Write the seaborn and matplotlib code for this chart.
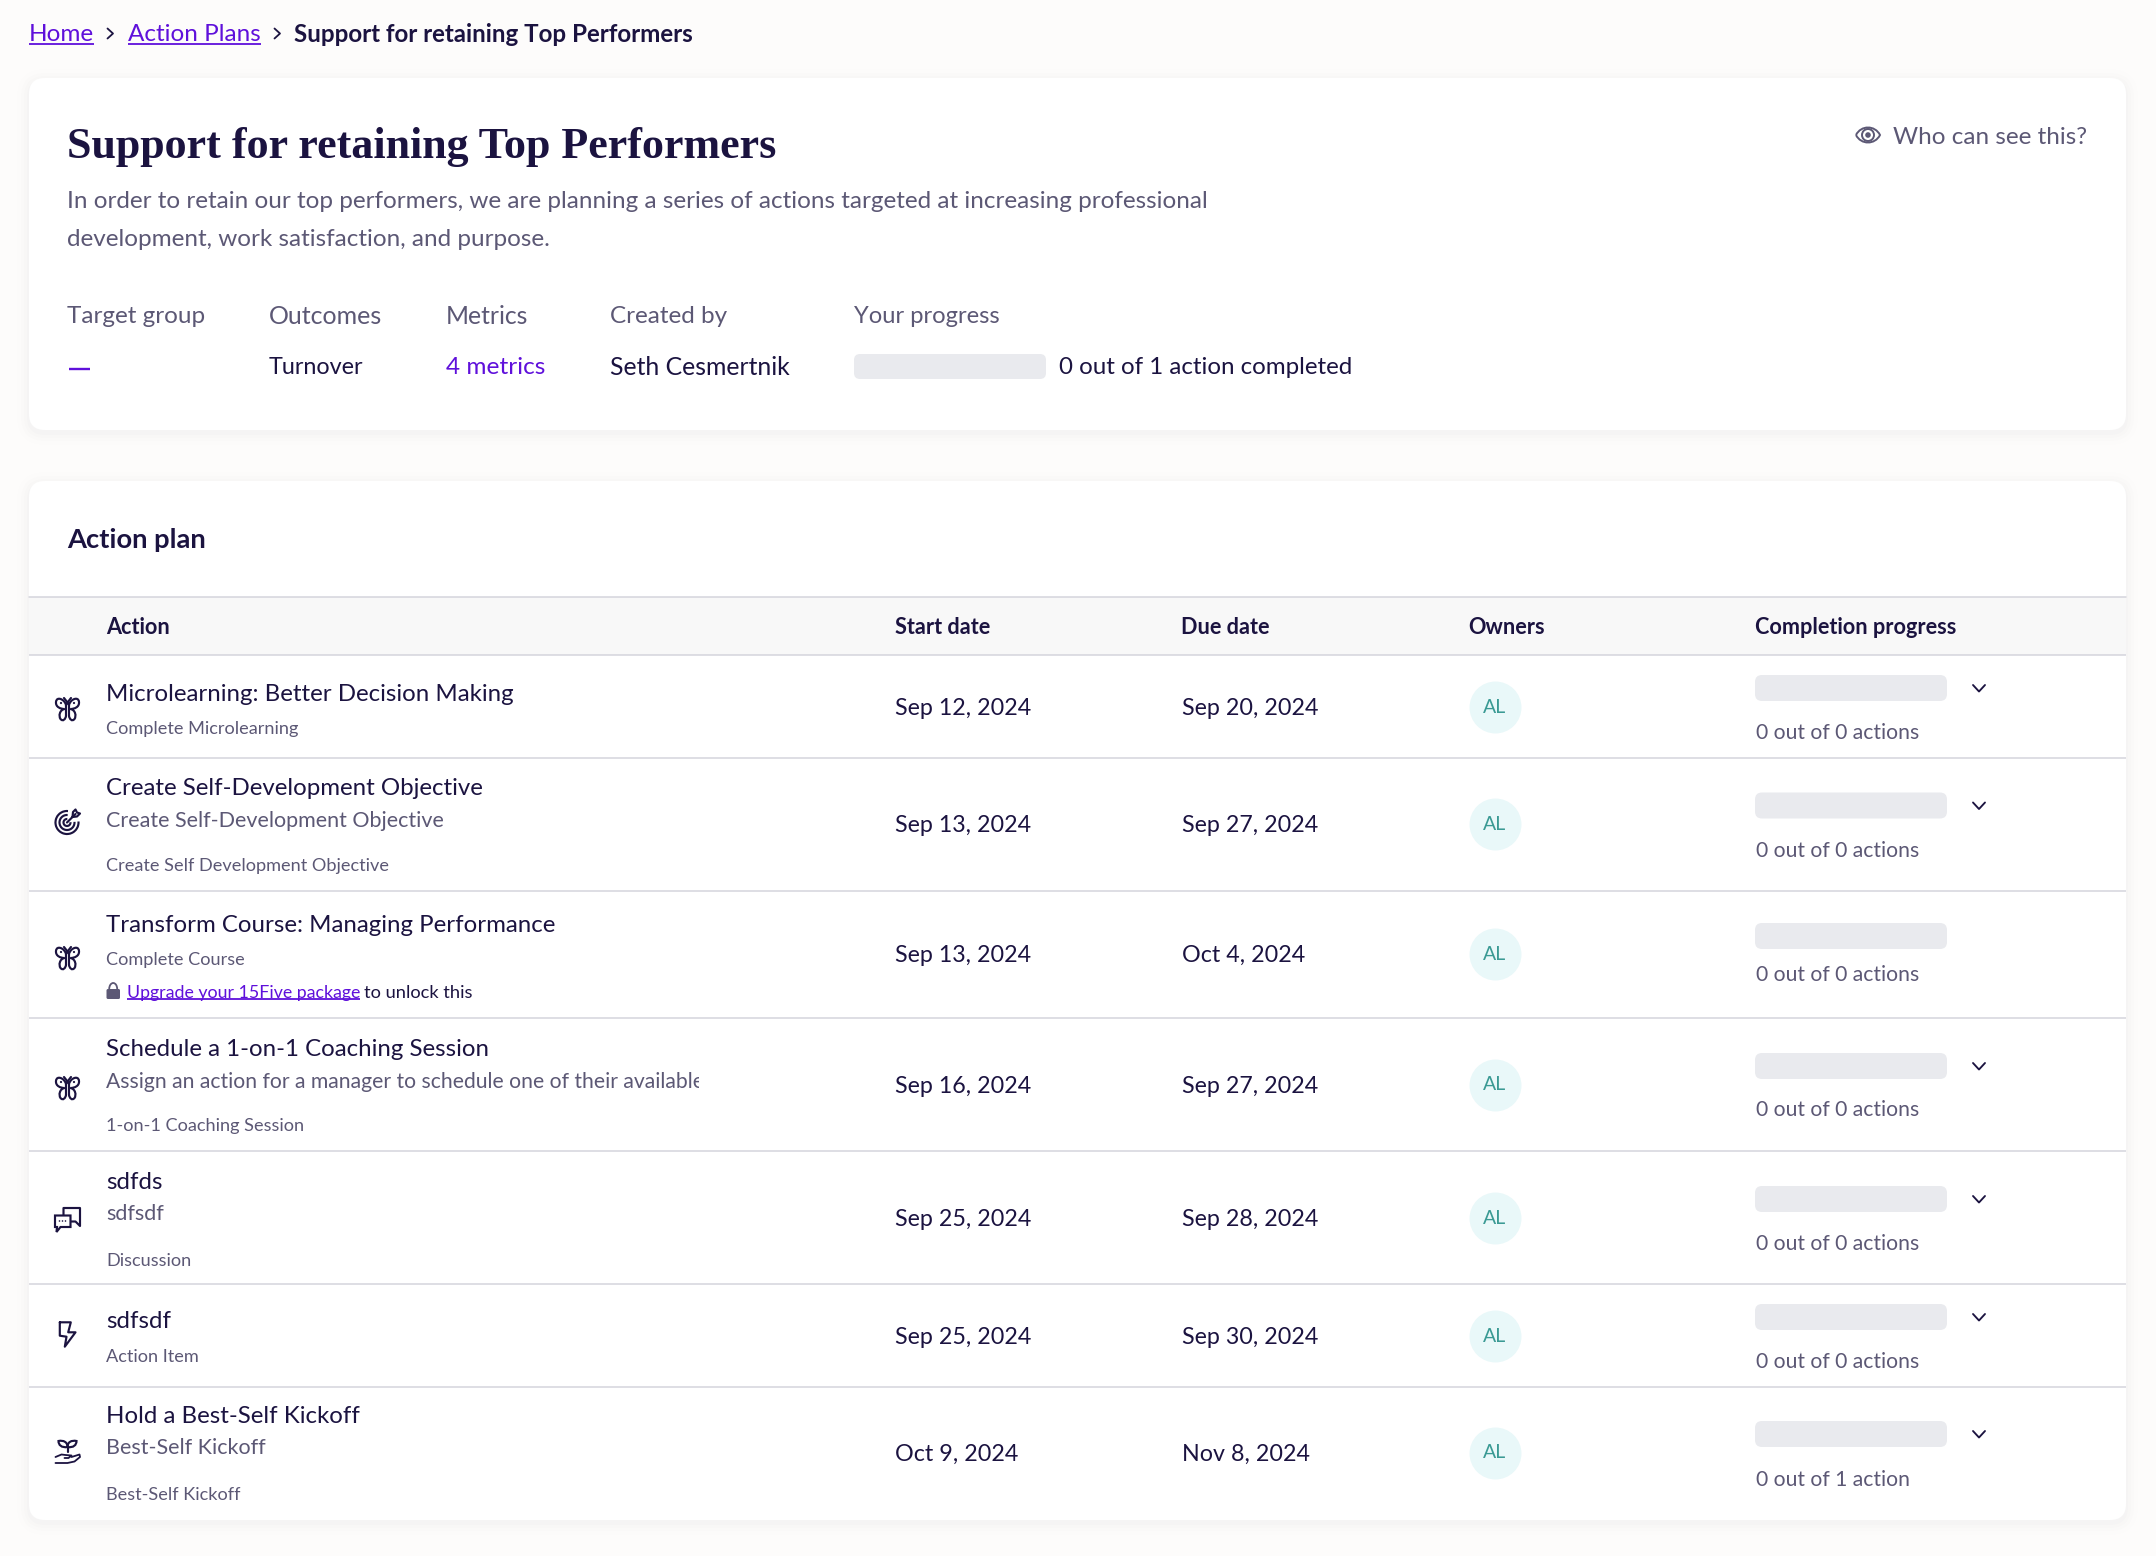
import matplotlib
matplotlib.use("Agg")
import matplotlib.pyplot as plt
import pandas as pd
import seaborn as sns
from matplotlib.patches import FancyBboxPatch, PathPatch, Circle, Arc, Polygon
from matplotlib.path import Path
from matplotlib.transforms import Bbox

# ---------- content ----------
crumb_links = ["Home", "Action Plans"]
page_title = "Support for retaining Top Performers"
page_desc = ["In order to retain our top performers, we are planning a series of actions targeted at increasing professional",
             "development, work satisfaction, and purpose."]
meta_labels = ["Target group", "Outcomes", "Metrics", "Created by", "Your progress"]
meta_values = ["—", "Turnover", "4 metrics", "Seth Cesmertnik"]
plan_progress = "0 out of 1 action completed"
columns = ["Action", "Start date", "Due date", "Owners", "Completion progress"]

action_titles = ["Microlearning: Better Decision Making", "Create Self-Development Objective",
                 "Transform Course: Managing Performance", "Schedule a 1-on-1 Coaching Session",
                 "sdfds", "sdfsdf", "Hold a Best-Self Kickoff"]
action_notes = [None, "Create Self-Development Objective", None,
                "Assign an action for a manager to schedule one of their available managers",
                "sdfsdf", None, "Best-Self Kickoff"]
action_types = ["Complete Microlearning", "Create Self Development Objective", "Complete Course",
                "1-on-1 Coaching Session", "Discussion", "Action Item", "Best-Self Kickoff"]
action_icons = ["butterfly", "target", "butterfly", "butterfly", "chat", "bolt", "sprout"]
start_dates = ["Sep 12, 2024", "Sep 13, 2024", "Sep 13, 2024", "Sep 16, 2024", "Sep 25, 2024", "Sep 25, 2024", "Oct 9, 2024"]
due_dates = ["Sep 20, 2024", "Sep 27, 2024", "Oct 4, 2024", "Sep 27, 2024", "Sep 28, 2024", "Sep 30, 2024", "Nov 8, 2024"]
owners = ["AL"] * 7
done_counts = [0, 0, 0, 0, 0, 0, 0]
total_counts = [0, 0, 0, 0, 0, 0, 1]
expandable = [True, True, False, True, True, True, True]

# ---------- layout (pixels) ----------
row_lines = [655, 758, 891, 1018, 1151, 1284, 1387]
title_y = [693, 786.5, 924, 1047.5, 1181, 1320, 1415]
note_y = [None, 819, None, 1081, 1213, None, 1447]
type_y = [727, 864, 958, 1125, 1259, 1356, 1494]
date_y = [707, 824, 954, 1085, 1218, 1336, 1453]
track_y = [688, 805.5, 936, 1066, 1199, 1317, 1434]
count_y = [731.5, 849.5, 973.5, 1109, 1243, 1361, 1479]
icon_y = [709, 822, 958, 1088, 1220, 1334, 1452]

INK = "#1B1340"; GREY = "#5C5875"; LINK = "#5F10DB"; TRACK = "#E9EAEE"
LINE = "#D4D4DC"; BG = "#FDFCFB"; TEAL = "#3A9A94"; TEAL_BG = "#E9F8F9"
SANS = "Lato"; SERIF = "Liberation Serif"
ICON_LW = 1.55

sns.set_theme(style="white")
plt.rcParams["font.family"] = [SANS, "DejaVu Sans"]
fig = plt.figure(figsize=(21.56, 15.56), dpi=100, facecolor=BG)
ax = fig.add_axes([0, 0, 1, 1])
ax.set_xlim(0, 2156); ax.set_ylim(1556, 0); ax.axis("off")
PT = 0.72
DY = 1.5


def T(x, y, s, px=22.5, c=INK, w="normal", fam=None, ha="left", z=6):
    return ax.text(x, y + DY, s, fontsize=px * PT, color=c, fontweight=w, ha=ha, va="center",
                   family=fam or [SANS, "DejaVu Sans"], zorder=z)


def rbox(x0, y0, x1, y1, r, fc, z=2, alpha=1):
    ax.add_patch(FancyBboxPatch((x0 + r, y0 + r), x1 - x0 - 2 * r, y1 - y0 - 2 * r,
                                boxstyle=f"round,pad={r},rounding_size={r}", fc=fc, ec="none",
                                alpha=alpha, zorder=z))


def card(x0, y0, x1, y1):
    for g, a in ((12, .005), (8, .006), (5, .008), (2, .010)):
        rbox(x0 - g, y0 - g + 3, x1 + g, y1 + g + 3, 16 + g, "#3A2F5A", z=1, alpha=a)
    rbox(x0, y0, x1, y1, 16, "white", z=2)


def link(x, y, s, px, under_y):
    t = T(x, y, s, px, LINK)
    e = t.get_window_extent(fig.canvas.get_renderer())
    ax.plot([e.x0, e.x1], [under_y, under_y], color=LINK, lw=1.3, solid_capstyle="butt", zorder=6)
    return e


def stroke(cx, cy, pts, lw=ICON_LW, c=INK, closed=False):
    xs = [cx + p[0] for p in pts]; ys = [cy + p[1] for p in pts]
    if closed:
        xs.append(xs[0]); ys.append(ys[0])
    ax.plot(xs, ys, color=c, lw=lw, solid_joinstyle="round", solid_capstyle="round", zorder=6)


def bez(cx, cy, verts, lw=ICON_LW, fc="none", ec=INK):
    codes = [Path.MOVETO] + [Path.CURVE4] * (len(verts) - 1)
    ax.add_patch(PathPatch(Path([(cx + a, cy + b) for a, b in verts], codes), fc=fc, ec=ec, lw=lw, zorder=6))


def icon_butterfly(cx, cy):
    for m in (-1, 1):
        bez(cx, cy, [(m * 1.5, -4), (m * 3, -10), (m * 11, -13), (m * 11.5, -7),
                     (m * 12, -2), (m * 7, 0), (m * 3, 0),
                     (m * 8, 1), (m * 9, 7), (m * 7, 10),
                     (m * 4.5, 13), (m * 2, 10), (m * 1.5, 7)])
        stroke(cx, cy, [(m * 1.5, -4), (m * 1.5, 7)])
        stroke(cx, cy, [(0, -6.5), (m * 3.5, -11)])
        ax.add_patch(Circle((cx + m * 6.5, cy - 6), 1.1, fc=INK, ec="none", zorder=7))
    stroke(cx, cy, [(-1.5, -4), (0, -6.5), (1.5, -4)])


def icon_target(cx, cy):
    for r in (11.5, 7.5, 3.5):
        ax.add_patch(Arc((cx - .5, cy + .5), 2 * r, 2 * r, theta1=-5, theta2=275, ec=INK, lw=ICON_LW, zorder=6))
    stroke(cx, cy, [(-.5, .5), (8, -8)])
    stroke(cx, cy, [(5, -5), (5.5, -10), (8, -12.5), (9.5, -9.5), (12.5, -8.5), (9.5, -5.5), (5, -5)])


def icon_chat(cx, cy):
    stroke(cx, cy, [(-4, -3), (-4, -12), (12.5, -12), (12.5, 6), (8, 1.5), (3, 1.5)])
    ax.add_patch(Polygon([(cx - 12.5, cy - 4.5), (cx + 3, cy - 4.5), (cx + 3, cy + 7), (cx - 7, cy + 7),
                          (cx - 11, cy + 12), (cx - 10.5, cy + 7), (cx - 12.5, cy + 7)],
                         closed=True, fc="white", ec=INK, lw=ICON_LW, zorder=6))
    for d in (-8, -5, -2):
        ax.add_patch(Circle((cx + d, cy + 1), .8, fc=INK, ec="none", zorder=7))


def icon_bolt(cx, cy):
    stroke(cx, cy, [(-7.7, -11.7), (3.3, -11.7), (.7, -1.7), (8, -1.7), (-2.7, 12.7), (-1, 2.7), (-7.7, 1.7)], closed=True)


def icon_sprout(cx, cy):
    stroke(cx, cy, [(0, 0), (0, -6)])
    bez(cx, cy, [(0, -5), (-6, -4), (-9, -7), (-9, -11), (-4, -12), (0, -10), (0, -5)])
    bez(cx, cy, [(0, -5), (6, -4), (9, -7), (9, -11), (4, -12), (0, -10), (0, -5)])
    stroke(cx, cy, [(-12, 5), (-6, 2.5), (-2, 3), (4, 3.5), (1, 6), (-3, 6)], lw=1.3)
    stroke(cx, cy, [(4, 5), (12, 2.5), (12.5, 5), (7, 9.5), (0, 11), (-12, 11)], lw=1.3)


ICONS = dict(butterfly=icon_butterfly, target=icon_target, chat=icon_chat, bolt=icon_bolt, sprout=icon_sprout)

# ---------- breadcrumb ----------
link(29, 33, crumb_links[0], 24.2, 44)
stroke(110, 33.5, [(-2.5, -5), (3, 0), (-2.5, 5)], lw=1.3)
link(128, 33, crumb_links[1], 24.2, 44)
stroke(277, 33.5, [(-2.5, -5), (3, 0), (-2.5, 5)], lw=1.3)
T(294, 33, page_title, 24.1, INK, "bold")

# ---------- summary card ----------
card(29, 78, 2126, 430)
T(67.4, 145, page_title, 44, INK, "bold", fam=SERIF)
T(67.4, 200, page_desc[0], 24.3, GREY)
T(67.4, 238, page_desc[1], 24.3, GREY)
bez(1868, 135, [(-12, 0), (-7, -10), (7, -10), (12, 0), (7, 10), (-7, 10), (-12, 0)], lw=1.4, ec=GREY)
ax.add_patch(Circle((1868, 135), 6, fc="none", ec=GREY, lw=1.4, zorder=6))
ax.add_patch(Circle((1868, 135), 2.8, fc=GREY, ec="none", zorder=6))
T(1893, 136, "Who can see this?", 24.2, GREY)

meta_x = [67.4, 269, 445.5, 610.5, 854]
meta_px = [24.2, 25.0, 24.8, 24.2, 23.7]
for x, s, p in zip(meta_x, meta_labels, meta_px):
    T(x, 315, s, p, GREY)
ax.plot([69, 90], [368.5, 368.5], color=LINK, lw=1.7, solid_capstyle="butt", zorder=6)
T(meta_x[1], 366, meta_values[1], 23.4, INK)
T(meta_x[2], 366, meta_values[2], 24.4, LINK)
T(meta_x[3], 366, meta_values[3], 24.8, INK)
rbox(854, 354, 1046, 379, 6, TRACK, z=3)
T(1059, 366, plan_progress, 24.1, INK)

# ---------- plan card ----------
card(29, 481, 2126, 1520)
T(67.4, 538, "Action plan", 27.4, INK, "bold")
ax.add_patch(plt.Rectangle((29, 597), 2097, 58, fc="#F8F8F8", ec="none", zorder=3))
ax.plot([29, 2126], [597, 597], color=LINE, lw=1.1, zorder=4)
col_x = [106, 895, 1181, 1468, 1755]
for x, s in zip(col_x, columns):
    T(x, 626, s, 21.6, INK, "bold")
ax.hlines(row_lines, 29, 2126, color=LINE, lw=1.1, zorder=4)

for i in range(len(action_titles)):
    ICONS[action_icons[i]](67.5, icon_y[i])
    T(106, title_y[i], action_titles[i], 24.0, INK)
    if action_notes[i]:
        clipped = len(action_notes[i]) > 60
        t = T(106, note_y[i], action_notes[i], 21.1 if clipped else 21.5, GREY)
        t.set_clip_box(Bbox([[0, 0], [698.5, 1556]]))
        t.set_clip_on(True)
    T(106, type_y[i], action_types[i], 18.2, GREY)
    T(895, date_y[i], start_dates[i], 23.3, INK)
    T(1181.5, date_y[i], due_dates[i], 23.3, INK)
    T(1495, date_y[i] - DY, owners[i], 19.5, TEAL, ha="center")
    rbox(1755, track_y[i] - 13, 1947, track_y[i] + 13, 7, TRACK, z=3)
    word = "action" if total_counts[i] == 1 else "actions"
    T(1756, count_y[i], f"{done_counts[i]} out of {total_counts[i]} {word}", 21.2, GREY)
    if expandable[i]:
        stroke(1979, track_y[i], [(-6, -3), (0, 3.5), (6, -3)], lw=1.35)

# upgrade notice in the third row
rbox(106.5, 989, 120, 999, 1.5, GREY, z=6)
ax.add_patch(Arc((113.2, 989), 8, 12, theta1=180, theta2=360, ec=GREY, lw=1.3, zorder=6))
link(127, 991, "Upgrade your 15Five package", 17.8, 998.5)
T(364, 991, "to unlock this", 18.3, INK)

# owner avatars through seaborn
avatars = pd.DataFrame({"x": [1495] * len(owners), "y": date_y})
sns.scatterplot(data=avatars, x="x", y="y", s=1400, color=TEAL_BG, linewidth=0, ax=ax, zorder=5, legend=False)
ax.set_xlim(0, 2156); ax.set_ylim(1556, 0); ax.axis("off")

fig.savefig("out.png", dpi=100, facecolor=BG)
